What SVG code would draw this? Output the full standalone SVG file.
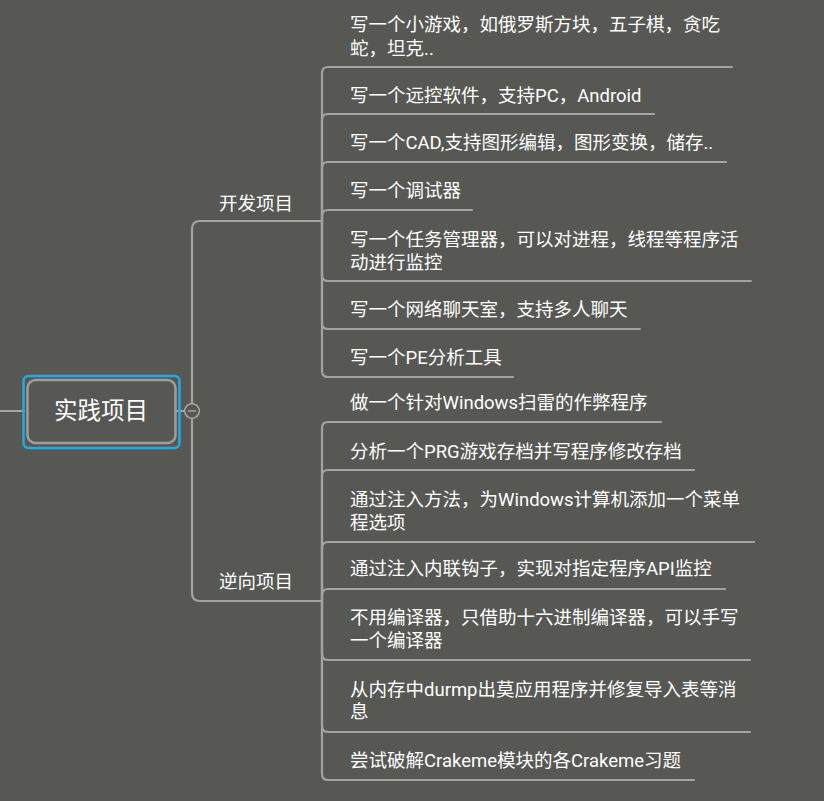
<svg xmlns="http://www.w3.org/2000/svg" width="824" height="801" viewBox="0 0 824 801">
<style>
.ln{fill:none;stroke:#a3a3a0;stroke-width:2.2;stroke-linecap:round}
.t{font-family:Roboto,"Noto Sans CJK SC",sans-serif;font-size:18.5px;fill:#ffffff}
</style>
<rect width="824" height="801" fill="#575854"/>
<g id="connectors">
<path class="ln" d="M0 411 H24"/>
<path class="ln" d="M176 411 H185"/>
<path class="ln" d="M192 403.5 V229 Q192 221 200 221 H322"/>
<path class="ln" d="M192 418.5 V593 Q192 601 200 601 H322"/>
<path class="ln" d="M322 221 V73 Q322 67 328 67 H732"/>
<path class="ln" d="M322 221 V120 Q322 114 328 114 H654"/>
<path class="ln" d="M322 221 V168 Q322 162 328 162 H726"/>
<path class="ln" d="M322 221 V216 Q322 210 328 210 H472"/>
<path class="ln" d="M322 221 V275 Q322 281 328 281 H751"/>
<path class="ln" d="M322 221 V323 Q322 329 328 329 H640"/>
<path class="ln" d="M322 221 V371 Q322 377 328 377 H513"/>
<path class="ln" d="M322 601 V428 Q322 422 328 422 H661"/>
<path class="ln" d="M322 601 V476 Q322 470 328 470 H694"/>
<path class="ln" d="M322 601 V548 Q322 542 328 542 H754"/>
<path class="ln" d="M322 601 V595 Q322 589 328 589 H725"/>
<path class="ln" d="M322 601 V654 Q322 660 328 660 H750"/>
<path class="ln" d="M322 601 V726 Q322 732 328 732 H750"/>
<path class="ln" d="M322 601 V774 Q322 780 328 780 H694"/>
</g>
<g id="root">
<rect x="23.5" y="376" width="156" height="72" rx="5" fill="none" stroke="#22a9e6" stroke-width="2.5"/>
<rect x="27.5" y="380" width="148" height="63" rx="8" fill="#575854" stroke="#9d9d9a" stroke-width="2.5"/>
<text x="101" y="411" font-family="Roboto,'Noto Sans CJK SC',sans-serif" font-size="23.5" fill="#ffffff" text-anchor="middle" dominant-baseline="central">实践项目</text>
<circle cx="192" cy="411" r="7.3" fill="#575854" stroke="#a3a3a0" stroke-width="1.6"/>
<path d="M188 411 H196" stroke="#a3a3a0" stroke-width="1.6"/>
</g>
<g id="n-dev"><text class="t" x="219" y="204" dominant-baseline="central">开发项目</text></g>
<g id="n-rev"><text class="t" x="219" y="582" dominant-baseline="central">逆向项目</text></g>
<g id="leaf1"><text class="t" x="350" y="25" dominant-baseline="central">写一个小游戏，如俄罗斯方块，五子棋，贪吃<tspan x="350" dy="24">蛇，坦克..</tspan></text></g>
<g id="leaf2"><text class="t" x="350" y="96" dominant-baseline="central">写一个远控软件，支持PC，Android</text></g>
<g id="leaf3"><text class="t" x="350" y="143" dominant-baseline="central">写一个CAD,支持图形编辑，图形变换，储存..</text></g>
<g id="leaf4"><text class="t" x="350" y="191" dominant-baseline="central">写一个调试器</text></g>
<g id="leaf5"><text class="t" x="350" y="240" dominant-baseline="central">写一个任务管理器，可以对进程，线程等程序活<tspan x="350" dy="23">动进行监控</tspan></text></g>
<g id="leaf6"><text class="t" x="350" y="310" dominant-baseline="central">写一个网络聊天室，支持多人聊天</text></g>
<g id="leaf7"><text class="t" x="350" y="358" dominant-baseline="central">写一个PE分析工具</text></g>
<g id="leaf8"><text class="t" x="350" y="403" dominant-baseline="central">做一个针对Windows扫雷的作弊程序</text></g>
<g id="leaf9"><text class="t" x="350" y="452" dominant-baseline="central">分析一个PRG游戏存档并写程序修改存档</text></g>
<g id="leaf10"><text class="t" x="350" y="500" dominant-baseline="central">通过注入方法，为Windows计算机添加一个菜单<tspan x="350" dy="23">程选项</tspan></text></g>
<g id="leaf11"><text class="t" x="350" y="569" dominant-baseline="central">通过注入内联钩子，实现对指定程序API监控</text></g>
<g id="leaf12"><text class="t" x="350" y="618" dominant-baseline="central">不用编译器，只借助十六进制编译器，可以手写<tspan x="350" dy="23">一个编译器</tspan></text></g>
<g id="leaf13"><text class="t" x="350" y="690" dominant-baseline="central">从内存中durmp出莫应用程序并修复导入表等消<tspan x="350" dy="22">息</tspan></text></g>
<g id="leaf14"><text class="t" x="350" y="761" dominant-baseline="central">尝试破解Crakeme模块的各Crakeme习题</text></g>
</svg>
